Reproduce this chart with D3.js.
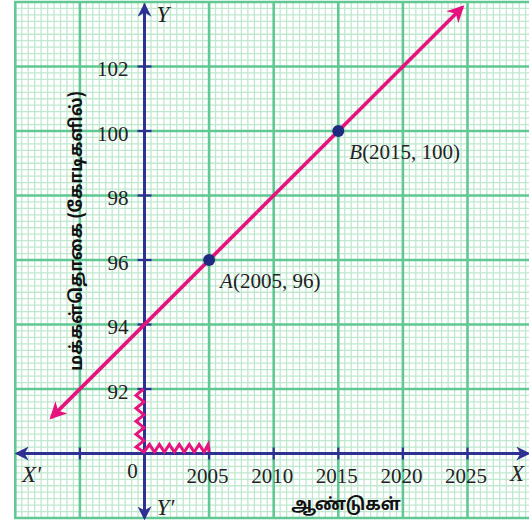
<!DOCTYPE html>
<html><head><meta charset="utf-8">
<script src="https://cdn.jsdelivr.net/npm/d3@7"></script>
<style>html,body{margin:0;padding:0;background:#fff;overflow:hidden}svg{display:block}</style>
</head><body>
<svg id="c" width="529" height="523"></svg>
<script>
// ---- data ----
const yearTicks = [2005, 2010, 2015, 2020, 2025];
const popTicks = [92, 94, 96, 98, 100, 102];
const points = [
  {name: "A", year: 2005, pop: 96},
  {name: "B", year: 2015, pop: 100}
];
const lineEnds = [[1992.8, 91.12], [2024.6, 103.84]];
const xTitle = "ஆண்டுகள்";
const yTitle = "மக்கள்தொகை (கோடிகளில்)";

// ---- scales ----
const x = d3.scaleLinear().domain([2000, 2025]).range([144.5, 467.5]);
const y = d3.scaleLinear().domain([90, 102]).range([453.5, 66.5]);

const svg = d3.select("#c");
const MAJ = "#60c893", MIN = "#bfe8cf", AX = "#2e3192", MAG = "#e6137e", PT = "#1d2a80";
const serif = "'Liberation Serif','Times New Roman',serif";
const tamil = "'Noto Sans Tamil','Lohit Tamil','Latha','Noto Sans',sans-serif";

const gx0 = x(1990), gx1 = 529, gy0 = y(104), gy1 = y(88);
const grid = svg.append("g");
// minor grid
d3.range(1990, 2031, 0.5).forEach(v => {
  if (x(v) > 529) return;
  grid.append("line").attr("x1", x(v)).attr("x2", x(v)).attr("y1", gy0).attr("y2", gy1)
    .attr("stroke", MIN).attr("stroke-width", 1.3);
});
d3.range(88, 104.01, 0.2).forEach(v => {
  grid.append("line").attr("x1", gx0).attr("x2", gx1).attr("y1", y(v)).attr("y2", y(v))
    .attr("stroke", MIN).attr("stroke-width", 1.3);
});
// major grid
d3.range(1990, 2031, 5).forEach(v => {
  if (x(v) > 529) return;
  grid.append("line").attr("x1", x(v)).attr("x2", x(v)).attr("y1", gy0 - 1).attr("y2", gy1 + 1)
    .attr("stroke", MAJ).attr("stroke-width", 2.6);
});
d3.range(88, 104.01, 2).forEach(v => {
  grid.append("line").attr("x1", gx0 - 1).attr("x2", gx1).attr("y1", y(v)).attr("y2", y(v))
    .attr("stroke", MAJ).attr("stroke-width", 2.6);
});

// defs: arrowheads
const defs = svg.append("defs");
function marker(id, color, w, h) {
  defs.append("marker").attr("id", id).attr("viewBox", "0 0 12 12").attr("refX", 10).attr("refY", 6)
    .attr("markerWidth", w).attr("markerHeight", h).attr("markerUnits", "userSpaceOnUse")
    .attr("orient", "auto")
    .append("path").attr("d", "M0,0 L12,6 L0,12 L3.5,6 Z").attr("fill", color);
}
marker("ax", AX, 15, 14);
marker("mg", MAG, 18, 17);

// axes
const ox = x(2000), oy = y(90);
svg.append("line").attr("x1", ox).attr("x2", 17).attr("y1", oy).attr("y2", oy)
  .attr("stroke", AX).attr("stroke-width", 3).attr("marker-end", "url(#ax)");
svg.append("line").attr("x1", ox).attr("x2", 528).attr("y1", oy).attr("y2", oy)
  .attr("stroke", AX).attr("stroke-width", 3).attr("marker-end", "url(#ax)");
svg.append("line").attr("x1", ox).attr("x2", ox).attr("y1", oy).attr("y2", 5)
  .attr("stroke", AX).attr("stroke-width", 3).attr("marker-end", "url(#ax)");
svg.append("line").attr("x1", ox).attr("x2", ox).attr("y1", oy).attr("y2", 518)
  .attr("stroke", AX).attr("stroke-width", 3).attr("marker-end", "url(#ax)");

// ticks
[1995].concat(yearTicks).forEach(v => {
  svg.append("line").attr("x1", x(v)).attr("x2", x(v)).attr("y1", oy - 6).attr("y2", oy + 6)
    .attr("stroke", AX).attr("stroke-width", 2.2);
});
popTicks.forEach(v => {
  svg.append("line").attr("x1", ox - 7).attr("x2", ox + 7).attr("y1", y(v)).attr("y2", y(v))
    .attr("stroke", AX).attr("stroke-width", 2.2);
});

// zigzags (axis breaks)
(function () {
  const top = y(92), bot = y(90), n = 5, step = (bot - top) / n;
  const pts = [[ox - 1, top]];
  for (let i = 0; i < n; i++) {
    pts.push([ox - 8.5, top + step * (i + 0.5)]);
    pts.push([ox - 0.5, top + step * (i + 1)]);
  }
  pts[pts.length - 1] = [ox - 0.5, bot - 1.5];
  const x0 = ox, x1 = x(2005), m = 6.5, st = (x1 - x0) / m;
  for (let i = 0; i < 6; i++) {
    pts.push([x0 + st * (i + 0.5), oy - 9]);
    pts.push([x0 + st * (i + 1), oy - 1.5]);
  }
  pts.push([x1 - 1, oy - 9]);
  pts.push([x1, oy - 1.5]);
  svg.append("path").attr("d", d3.line()(pts)).attr("fill", "none")
    .attr("stroke", MAG).attr("stroke-width", 3).attr("stroke-linejoin", "miter");
})();

// main line with arrows both ends
const mid = [(lineEnds[0][0] + lineEnds[1][0]) / 2, (lineEnds[0][1] + lineEnds[1][1]) / 2];
svg.append("line").attr("x1", x(mid[0])).attr("y1", y(mid[1]))
  .attr("x2", x(lineEnds[0][0])).attr("y2", y(lineEnds[0][1]))
  .attr("stroke", MAG).attr("stroke-width", 3.6).attr("marker-end", "url(#mg)");
svg.append("line").attr("x1", x(mid[0])).attr("y1", y(mid[1]))
  .attr("x2", x(lineEnds[1][0])).attr("y2", y(lineEnds[1][1]))
  .attr("stroke", MAG).attr("stroke-width", 3.6).attr("marker-end", "url(#mg)");

// points
svg.selectAll("circle.p").data(points).join("circle").attr("class", "p")
  .attr("cx", d => x(d.year)).attr("cy", d => y(d.pop)).attr("r", 6).attr("fill", PT);

// point labels
const pl = svg.selectAll("text.pl").data(points).join("text").attr("class", "pl")
  .attr("x", d => x(d.year) + 11).attr("y", d => y(d.pop) + 28)
  .attr("font-family", serif).attr("font-size", 21).attr("fill", "#222");
pl.append("tspan").attr("font-style", "italic").text(d => d.name);
pl.append("tspan").text(d => `(${d.year}, ${d.pop})`);

// tick labels
svg.selectAll("text.xt").data(yearTicks).join("text").attr("class", "xt")
  .attr("x", d => x(d) - 1.5).attr("y", oy + 29.5).attr("text-anchor", "middle")
  .attr("font-family", serif).attr("font-size", 21).attr("fill", "#222").text(d => d);
svg.selectAll("text.yt").data(popTicks).join("text").attr("class", "yt")
  .attr("x", ox - 16).attr("y", d => y(d) + 9.5).attr("text-anchor", "end")
  .attr("font-family", serif).attr("font-size", 21).attr("fill", "#222").text(d => d);
svg.append("text").attr("x", ox - 12).attr("y", oy + 24.5).attr("text-anchor", "middle")
  .attr("font-family", serif).attr("font-size", 21).attr("fill", "#222").text("0");

// axis names
function axName(t, px, py) {
  svg.append("text").attr("x", px).attr("y", py).attr("font-family", serif)
    .attr("font-style", "italic").attr("font-size", 23).attr("fill", "#222").text(t);
}
axName("X′", 22, oy + 28.5);
axName("X", 510, oy + 27.5);
axName("Y", ox + 12, 22);
axName("Y′", ox + 12, 515);

// titles
svg.append("text").attr("x", 346).attr("y", 510).attr("text-anchor", "middle")
  .attr("font-family", tamil).attr("font-weight", "bold").attr("font-size", 17)
  .attr("fill", "#111").text(xTitle);
svg.append("text").attr("transform", "translate(77,231) rotate(-90)").attr("text-anchor", "middle")
  .attr("dominant-baseline", "central")
  .attr("font-family", tamil).attr("font-weight", "bold").attr("font-size", 17)
  .attr("fill", "#111").text(yTitle);
</script>
</body></html>
